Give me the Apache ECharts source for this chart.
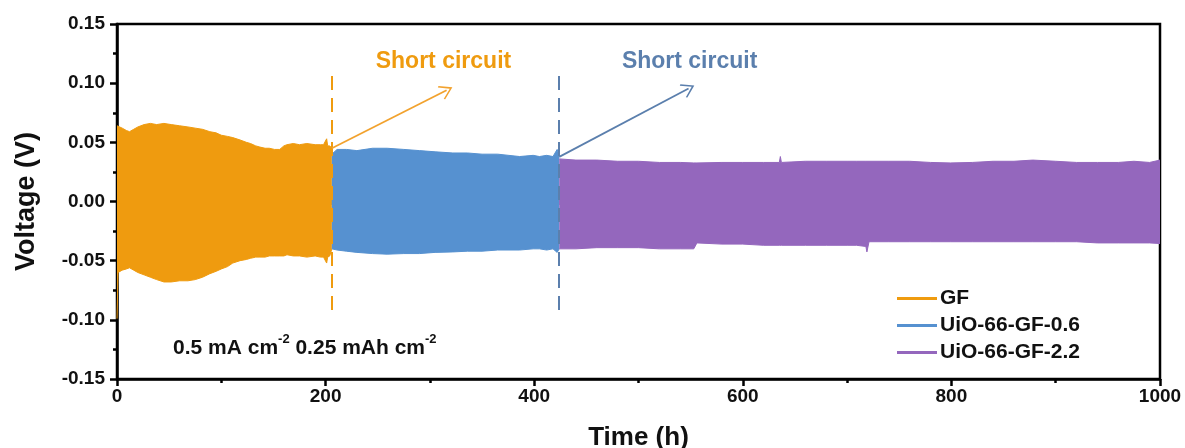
<!DOCTYPE html>
<html><head><meta charset="utf-8">
<script src="https://cdn.jsdelivr.net/npm/echarts@6/dist/echarts.min.js"></script>
<style>html,body{margin:0;padding:0;background:#fff}#c{width:1185px;height:448px}</style>
</head><body><div id="c"></div>
<script>
// ---- data ----
const seriesNames = ['GF', 'UiO-66-GF-0.6', 'UiO-66-GF-2.2'];
const colors = ['#EF9B0F', '#5691D0', '#9467BD'];

// GF envelope (time h, upper V, lower V)
const gfTime  = [0, 1, 5, 9, 12, 16, 20, 26, 32, 38, 45, 52, 60, 68, 75, 82, 89, 95, 100, 106, 111, 118, 124, 128, 133, 137, 142, 146, 151, 156, 160, 163, 169, 175, 182, 190, 195, 198, 201, 202, 204, 206];
const gfUpper = [0.064, 0.064, 0.062, 0.060, 0.059, 0.061, 0.063, 0.065, 0.066, 0.065, 0.066, 0.065, 0.064, 0.063, 0.062, 0.061, 0.059, 0.058, 0.056, 0.055, 0.054, 0.052, 0.050, 0.049, 0.047, 0.046, 0.045, 0.045, 0.044, 0.044, 0.047, 0.048, 0.049, 0.048, 0.049, 0.048, 0.048, 0.048, 0.053, 0.047, 0.047, 0.045];
const gfLower = [-0.099, -0.060, -0.058, -0.057, -0.056, -0.058, -0.060, -0.062, -0.064, -0.066, -0.068, -0.068, -0.067, -0.067, -0.066, -0.064, -0.061, -0.059, -0.057, -0.055, -0.052, -0.050, -0.049, -0.048, -0.047, -0.047, -0.047, -0.046, -0.046, -0.046, -0.046, -0.045, -0.046, -0.046, -0.047, -0.046, -0.047, -0.047, -0.052, -0.047, -0.046, -0.040];

// UiO-66-GF-0.6 envelope
const uio06Time  = [206, 211, 220, 230, 245, 259, 275, 290, 305, 322, 336, 350, 365, 386, 399, 405, 412, 418, 422, 424];
const uio06Upper = [0.040, 0.044, 0.044, 0.043, 0.045, 0.045, 0.044, 0.043, 0.042, 0.041, 0.041, 0.040, 0.040, 0.038, 0.039, 0.038, 0.039, 0.038, 0.044, 0.038];
const uio06Lower = [-0.040, -0.041, -0.042, -0.043, -0.044, -0.0445, -0.044, -0.044, -0.043, -0.0426, -0.042, -0.042, -0.041, -0.041, -0.040, -0.040, -0.041, -0.040, -0.043, -0.040];

// UiO-66-GF-2.2 envelope
const uio22Time  = [424, 440, 460, 480, 500, 520, 540, 553, 556, 580, 600, 620, 635, 636, 637, 660, 680, 700, 709, 718, 719, 721, 740, 760, 780, 799, 820, 840, 860, 878, 900, 920, 940, 960, 975, 990, 1000];
const uio22Upper = [0.036, 0.035, 0.035, 0.034, 0.034, 0.033, 0.033, 0.0326, 0.0326, 0.033, 0.033, 0.033, 0.033, 0.038, 0.033, 0.034, 0.034, 0.034, 0.034, 0.034, 0.034, 0.034, 0.034, 0.034, 0.033, 0.0326, 0.033, 0.034, 0.034, 0.035, 0.034, 0.033, 0.033, 0.033, 0.034, 0.033, 0.035];
const uio22Lower = [-0.040, -0.040, -0.039, -0.039, -0.039, -0.040, -0.040, -0.040, -0.035, -0.036, -0.036, -0.037, -0.037, -0.037, -0.037, -0.037, -0.037, -0.037, -0.037, -0.038, -0.0426, -0.034, -0.034, -0.034, -0.034, -0.034, -0.034, -0.034, -0.034, -0.034, -0.034, -0.034, -0.035, -0.035, -0.035, -0.035, -0.0355];

// annotations
const shortTimes = [206, 424];
const dashRange = [0.106, -0.095];
const arrowStart = [[206, 0.045], [424, 0.0377]];
const arrowEnd = [[316, 0.094], [548, 0.0955]];
const annoLabel = 'Short circuit';
const annoPos = [[313, 0.1186], [549, 0.1186]];
const annoColors = ['#EF9B0F', '#5B7FAD'];

const xTicks = { min: 0, max: 1000, interval: 200 };
const yTicks = { min: -0.15, max: 0.15, interval: 0.05 };

// ---- build ----
const FONT = 'Liberation Sans, Arial, sans-serif';
function pairs(t, v) { return t.map((x, i) => [x, v[i]]); }
const env = [[gfTime, gfUpper, gfLower], [uio06Time, uio06Upper, uio06Lower], [uio22Time, uio22Upper, uio22Lower]];
const series = [];
env.forEach((e, k) => {
  [[e[1], -0.003], [e[2], 0.003]].forEach(([vals, org]) => {
    series.push({
      name: seriesNames[k], type: 'line', data: pairs(e[0], vals),
      symbol: 'none', silent: true, z: 2 + k,
      lineStyle: { color: colors[k], width: 1 },
      itemStyle: { color: colors[k] },
      areaStyle: { color: colors[k], opacity: 1, origin: org }
    });
  });
});
const chevron = 'path://M0,0 L10,12 L8.6,13.2 L0,3 L-8.6,13.2 L-10,12 Z';
series.push({
  type: 'line', data: [], silent: true, z: 10,
  markLine: {
    silent: true, animation: false,
    label: { show: false },
    data: [
      [{ coord: [shortTimes[0], dashRange[0]], symbol: 'none', lineStyle: { color: annoColors[0], type: [14, 8], width: 2 } }, { coord: [shortTimes[0], dashRange[1]], symbol: 'none' }],
      [{ coord: [shortTimes[1], dashRange[0]], symbol: 'none', lineStyle: { color: annoColors[1], type: [14, 8], width: 2 } }, { coord: [shortTimes[1], dashRange[1]], symbol: 'none' }],
      [{ coord: arrowStart[0], symbol: 'none', lineStyle: { color: '#F2A22E', type: 'solid', width: 1.8 } }, { coord: arrowEnd[0], symbol: chevron, symbolSize: [15, 13] }],
      [{ coord: arrowStart[1], symbol: 'none', lineStyle: { color: '#5B7FAD', type: 'solid', width: 1.8 } }, { coord: arrowEnd[1], symbol: chevron, symbolSize: [15, 13] }]
    ]
  },
  markPoint: {
    silent: true, symbol: 'circle', symbolSize: 0, animation: false,
    data: annoPos.map((p, i) => ({
      coord: p,
      label: { show: true, position: 'inside', formatter: annoLabel, color: annoColors[i], fontSize: 23, fontWeight: 'bold', fontFamily: FONT }
    }))
  }
});

const chart = echarts.init(document.getElementById('c'), null, { renderer: 'canvas' });
chart.setOption({
  animation: false,
  backgroundColor: '#fff',
  grid: { left: 117, right: 25, top: 24, bottom: 69, show: true, borderColor: '#000', borderWidth: 2.5, backgroundColor: 'transparent', containLabel: false, outerBoundsMode: 'none' },
  legend: {
    data: seriesNames, orient: 'vertical', left: 892, top: 283, itemGap: 6,
    icon: 'rect', itemWidth: 40, itemHeight: 3,
    textStyle: { fontSize: 21, fontWeight: 'bold', color: '#111', fontFamily: FONT, padding: [0, 0, 0, -2] },
    selectedMode: false
  },
  xAxis: {
    type: 'value', min: xTicks.min, max: xTicks.max, interval: xTicks.interval,
    name: 'Time (h)', nameLocation: 'middle', nameGap: 46,
    nameTextStyle: { fontSize: 26, fontWeight: 'bold', color: '#111', fontFamily: FONT },
    axisLine: { show: true, onZero: false, lineStyle: { color: '#000', width: 2.5 } },
    axisTick: { show: true, inside: false, length: 7, lineStyle: { width: 2.5, color: '#000' } },
    minorTick: { show: true, splitNumber: 2, length: 4, lineStyle: { width: 2.5, color: '#000' } },
    axisLabel: { fontSize: 19, fontWeight: 'bold', color: '#111', fontFamily: FONT, margin: 8, formatter: v => String(v) },
    splitLine: { show: false }
  },
  yAxis: {
    type: 'value', min: yTicks.min, max: yTicks.max, interval: yTicks.interval,
    name: 'Voltage (V)', nameLocation: 'middle', nameGap: 77,
    nameTextStyle: { fontSize: 27, fontWeight: 'bold', color: '#111', fontFamily: FONT },
    axisLine: { show: true, onZero: false, lineStyle: { color: '#000', width: 2.5 } },
    axisTick: { show: true, inside: false, length: 7, lineStyle: { width: 2.5, color: '#000' } },
    minorTick: { show: true, splitNumber: 2, length: 4, lineStyle: { width: 2.5, color: '#000' } },
    axisLabel: { fontSize: 19, fontWeight: 'bold', color: '#111', fontFamily: FONT, margin: 12, formatter: v => v.toFixed(2) },
    splitLine: { show: false }
  },
  graphic: [{
    type: 'text', left: 173, top: 333, silent: true,
    style: {
      text: '{a|0.5 mA cm}{s|-2}{a| 0.25 mAh cm}{s|-2}',
      rich: {
        a: { fontSize: 21, fontWeight: 'bold', fill: '#111', fontFamily: FONT, verticalAlign: 'bottom', lineHeight: 26 },
        s: { fontSize: 13, fontWeight: 'bold', fill: '#111', fontFamily: FONT, verticalAlign: 'top', lineHeight: 26, padding: [0, 0, 12, 0] }
      }
    }
  }],
  series: series
});
</script>
</body></html>
